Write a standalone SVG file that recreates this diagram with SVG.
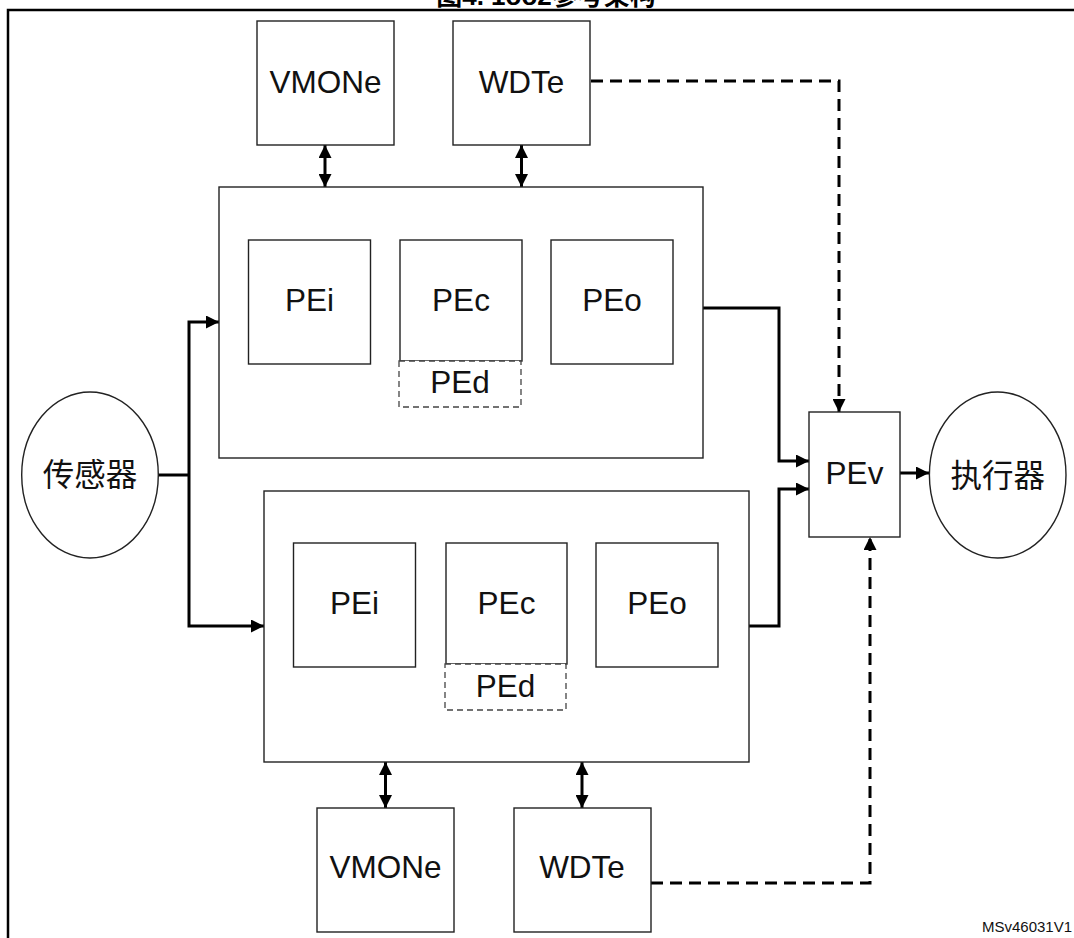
<svg xmlns="http://www.w3.org/2000/svg" width="1074" height="938" viewBox="0 0 1074 938">
<style>
.box{fill:#fff;stroke:#222;stroke-width:1.4}
.dbox{fill:#fff;stroke:#444;stroke-width:1.3;stroke-dasharray:6 4}
.lbl{font-family:"Liberation Sans","Noto Sans CJK SC",sans-serif;font-size:31.5px;fill:#111;text-anchor:middle}
.con{fill:none;stroke:#000;stroke-width:3}
.dash{fill:none;stroke:#000;stroke-width:3;stroke-dasharray:12 7}
.frame{fill:none;stroke:#000;stroke-width:2.5}
</style>
<defs>
<marker id="arr" viewBox="0 0 14 14" refX="14" refY="7" markerWidth="14" markerHeight="13" markerUnits="userSpaceOnUse" orient="auto-start-reverse">
<path d="M0,0 L14,7 L0,14 z" fill="#000"/>
</marker>
</defs>
<rect width="1074" height="938" fill="#fff"/>
<text x="546" y="5" font-family="'Liberation Sans','Noto Sans CJK SC',sans-serif" font-size="26" font-weight="bold" text-anchor="middle">图4. 1oo2参考架构</text>
<path class="frame" d="M8,938 V10 H1074"/>
<text x="982" y="932" font-family="'Liberation Sans',sans-serif" font-size="15" fill="#111">MSv46031V1</text>

<g id="connectors">
<path class="con" d="M158,475 H189"/>
<path class="con" d="M189,475 V322 H219" marker-end="url(#arr)"/>
<path class="con" d="M189,475 V626 H264" marker-end="url(#arr)"/>
<path class="con" d="M325,145 V187" marker-start="url(#arr)" marker-end="url(#arr)"/>
<path class="con" d="M521.5,145 V187" marker-start="url(#arr)" marker-end="url(#arr)"/>
<path class="con" d="M385.5,762 V808" marker-start="url(#arr)" marker-end="url(#arr)"/>
<path class="con" d="M582,762 V808" marker-start="url(#arr)" marker-end="url(#arr)"/>
<path class="con" d="M703,308 H779 V461 H809" marker-end="url(#arr)"/>
<path class="con" d="M749,626 H779 V489 H809" marker-end="url(#arr)"/>
<path class="con" d="M900,473 H929" marker-end="url(#arr)"/>
<path class="dash" d="M591,81 H839 V412" marker-end="url(#arr)"/>
<path class="dash" d="M651,883 H870 V537" marker-end="url(#arr)"/>
</g>

<g id="vmone-top"><rect class="box" x="257" y="21" width="137" height="124"/><text class="lbl" x="325.5" y="93">VMONe</text></g>
<g id="wdte-top"><rect class="box" x="453" y="21" width="137" height="124"/><text class="lbl" x="521.5" y="93">WDTe</text></g>

<g id="channel1">
<rect class="box" x="219" y="187" width="484" height="271"/>
</g>
<g id="pei-1"><rect class="box" x="248.5" y="240" width="122" height="124"/><text class="lbl" x="309.5" y="311">PEi</text></g>
<g id="pec-1"><rect class="box" x="400" y="240" width="122" height="121"/><text class="lbl" x="461" y="311">PEc</text></g>
<g id="ped-1"><rect class="dbox" x="399" y="361" width="122" height="46"/><text class="lbl" x="460" y="393">PEd</text></g>
<g id="peo-1"><rect class="box" x="551" y="240" width="122" height="124"/><text class="lbl" x="612" y="311">PEo</text></g>

<g id="channel2">
<rect class="box" x="264" y="491" width="485" height="271"/>
</g>
<g id="pei-2"><rect class="box" x="293.5" y="543" width="122" height="124"/><text class="lbl" x="354.5" y="614">PEi</text></g>
<g id="pec-2"><rect class="box" x="446" y="543" width="121" height="121"/><text class="lbl" x="506.5" y="614">PEc</text></g>
<g id="ped-2"><rect class="dbox" x="445" y="664" width="121" height="46"/><text class="lbl" x="505.5" y="697">PEd</text></g>
<g id="peo-2"><rect class="box" x="596" y="543" width="122" height="124"/><text class="lbl" x="657" y="614">PEo</text></g>

<g id="vmone-bottom"><rect class="box" x="317" y="808" width="137" height="124"/><text class="lbl" x="385.5" y="878">VMONe</text></g>
<g id="wdte-bottom"><rect class="box" x="514" y="808" width="137" height="124"/><text class="lbl" x="582" y="878">WDTe</text></g>

<g id="pev"><rect class="box" x="809" y="412" width="91" height="125"/><text class="lbl" x="854.5" y="484">PEv</text></g>
<g id="sensor"><ellipse class="box" cx="90" cy="475" rx="68.3" ry="83"/><text class="lbl" x="90" y="486">传感器</text></g>
<g id="actuator"><ellipse class="box" cx="997.7" cy="475" rx="68.3" ry="83"/><text class="lbl" x="997.7" y="487">执行器</text></g>
</svg>
